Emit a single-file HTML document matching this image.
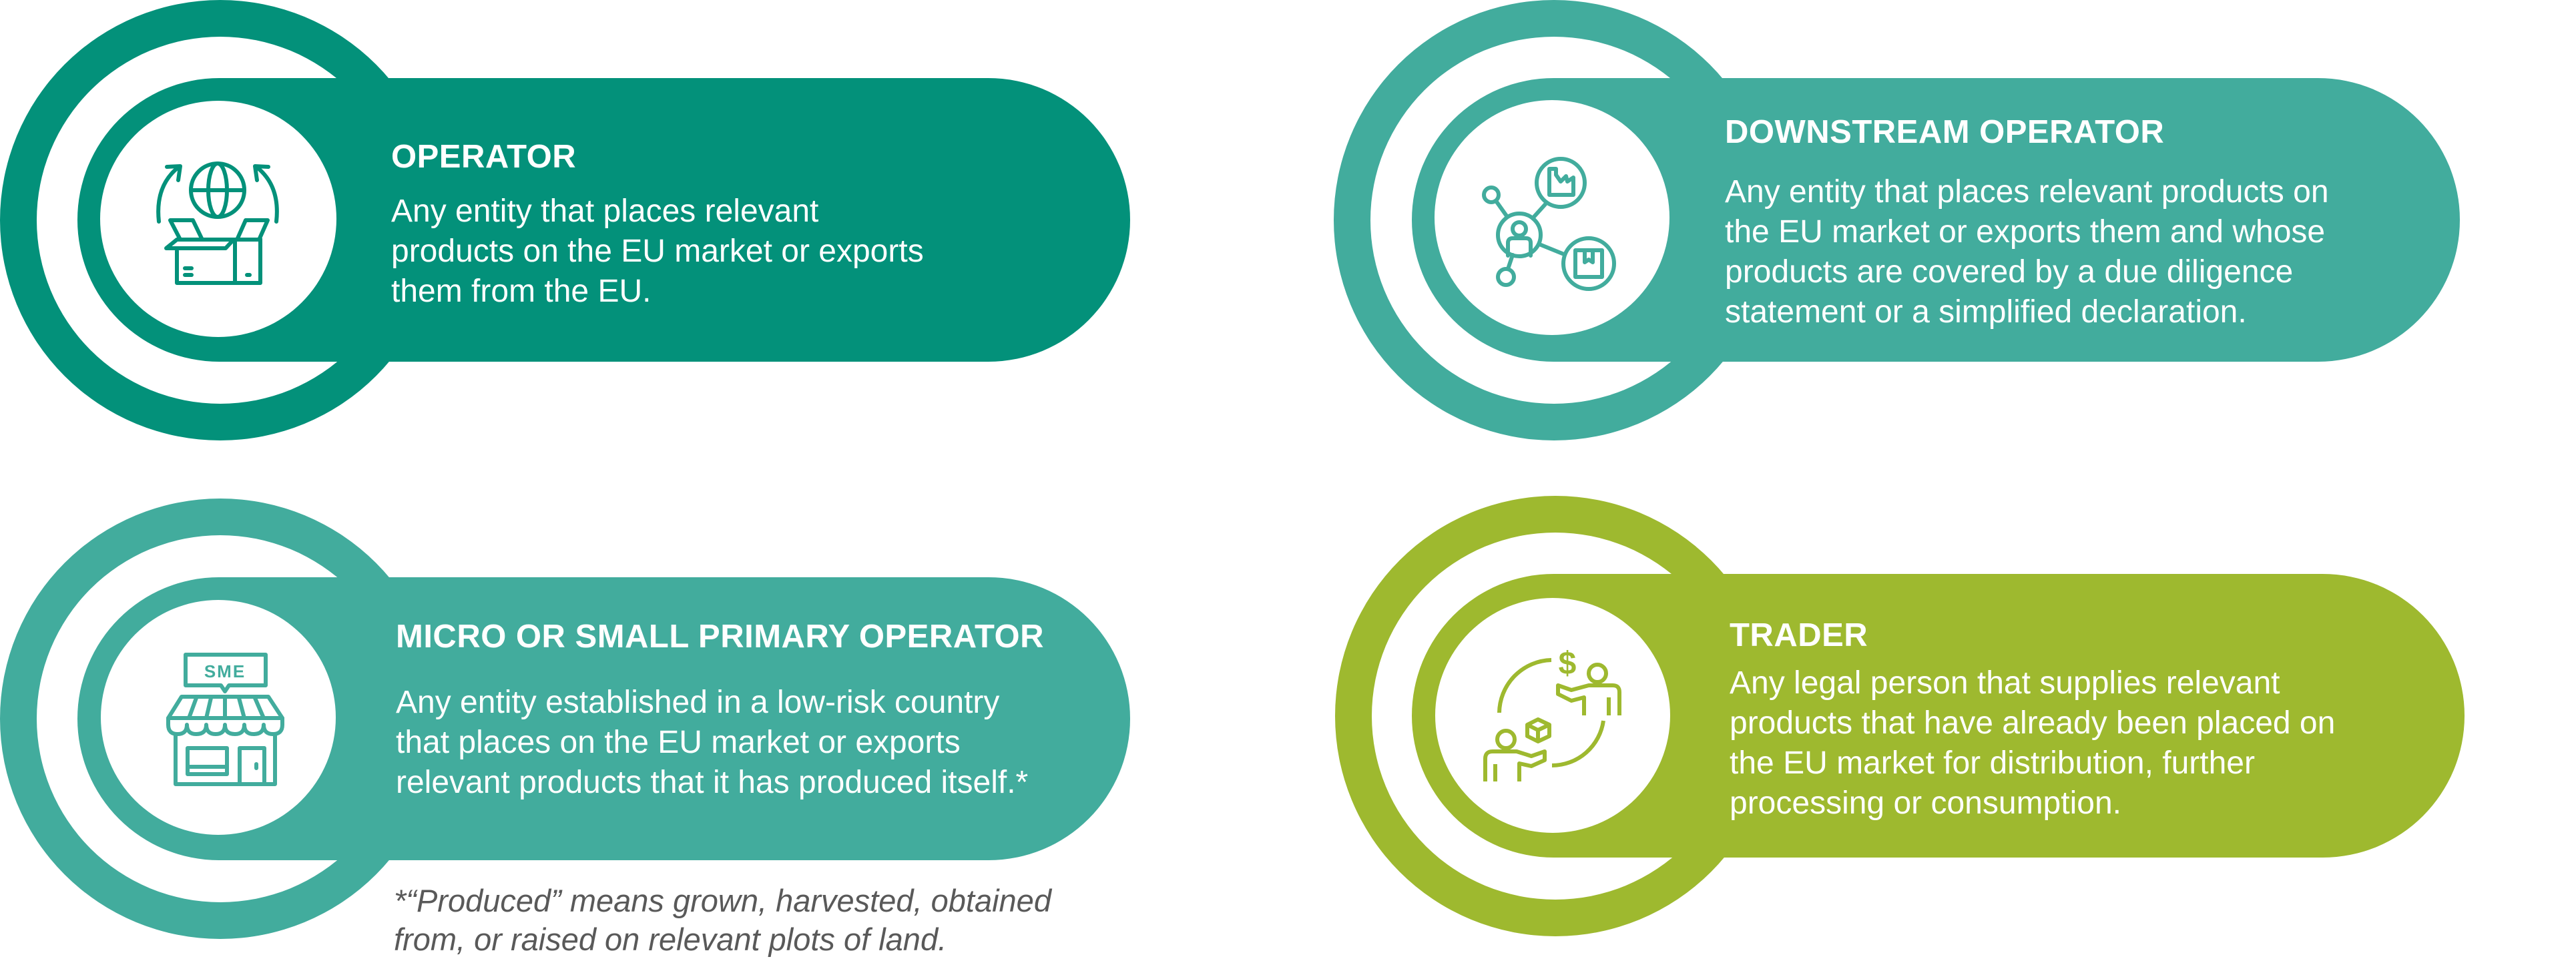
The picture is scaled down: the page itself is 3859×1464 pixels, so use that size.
<!DOCTYPE html>
<html><head><meta charset="utf-8"><style>
html,body{margin:0;padding:0;background:#fff;}
svg{display:block;}
text{font-family:"Liberation Sans",sans-serif;}
.h{font-weight:bold;font-size:49px;fill:#fff;letter-spacing:0.5px;}
.b{font-size:48px;fill:#fff;}
.f{font-size:47px;fill:#595959;font-style:italic;}
</style></head><body>
<svg width="3859" height="1464" viewBox="0 0 3859 1464" xmlns="http://www.w3.org/2000/svg">
<!-- Card 1 -->
<g>
<circle cx="330" cy="330" r="330" fill="#03917a"/>
<circle cx="330" cy="330" r="275" fill="#fff"/>
<rect x="116" y="117" width="1577" height="425" rx="212.5" fill="#03917a"/>
<circle cx="327" cy="328" r="177" fill="#fff"/>
<g fill="none" stroke="#03917a" stroke-width="6" stroke-linecap="round" stroke-linejoin="round">
<circle cx="326" cy="285" r="40"/>
<ellipse cx="326" cy="285" rx="14" ry="40"/>
<line x1="287" y1="285" x2="365" y2="285"/>
<path d="M238 332 Q232 278 268 250"/><path d="M250 250 L270 249 L267 270"/>
<path d="M414 332 Q420 278 384 250"/><path d="M402 250 L382 249 L385 270"/>
<path d="M265 376 L265 424 L390 424 L390 358"/>
<line x1="352" y1="359" x2="352" y2="424"/>
<path d="M249 372 L265 359 L350 359 L338 372 Z"/>
<path d="M269 357 L255 330 L289 330 L302 357"/>
<path d="M356 357 L368 330 L401 330 L389 357"/>
<line x1="302" y1="359" x2="390" y2="359"/>
<line x1="277" y1="402" x2="287" y2="402"/><line x1="277" y1="412" x2="287" y2="412"/>
<line x1="370" y1="412" x2="374" y2="412"/>
</g>
<text class="h" x="586" y="251">OPERATOR</text>
<text class="b" x="586" y="332">Any entity that places relevant</text>
<text class="b" x="586" y="392">products on the EU market or exports</text>
<text class="b" x="586" y="452">them from the EU.</text>
</g>
<!-- Card 2 -->
<g>
<circle cx="2328" cy="330" r="330" fill="#42ac9d"/>
<circle cx="2328" cy="330" r="275" fill="#fff"/>
<rect x="2115" y="117" width="1570" height="425" rx="212.5" fill="#42ac9d"/>
<circle cx="2325" cy="326" r="176" fill="#fff"/>
<g fill="none" stroke="#42ac9d" stroke-width="6" stroke-linecap="round" stroke-linejoin="round">
<circle cx="2234" cy="292" r="11"/>
<circle cx="2276" cy="352" r="32"/>
<circle cx="2338" cy="274" r="36"/>
<circle cx="2380" cy="395" r="38"/>
<circle cx="2256" cy="415" r="12"/>
<line x1="2241" y1="301" x2="2258" y2="325"/>
<line x1="2296" y1="327" x2="2315" y2="306"/>
<line x1="2306" y1="366" x2="2343" y2="381"/>
<line x1="2266" y1="382" x2="2259" y2="403"/>
<circle cx="2276" cy="343" r="10"/>
<path d="M2259 383 L2259 364 Q2259 357 2266 357 L2286 357 Q2293 357 2293 364 L2293 383"/>
<path d="M2321 253 L2321 292 L2357 292 L2357 266 L2348 272 L2346 264 L2338 272 L2331 262 L2331 253 Z"/>
<rect x="2360" y="375" width="40" height="40"/>
<path d="M2374 376 L2374 393 L2380 389 L2386 393 L2386 376"/>
</g>
<text class="h" x="2584" y="214">DOWNSTREAM OPERATOR</text>
<text class="b" x="2584" y="303">Any entity that places relevant products on</text>
<text class="b" x="2584" y="363">the EU market or exports them and whose</text>
<text class="b" x="2584" y="423">products are covered by a due diligence</text>
<text class="b" x="2584" y="483">statement or a simplified declaration.</text>
</g>
<!-- Card 3 -->
<g>
<circle cx="330" cy="1077" r="330" fill="#42ac9d"/>
<circle cx="330" cy="1077" r="275" fill="#fff"/>
<rect x="116" y="865" width="1577" height="424" rx="212" fill="#42ac9d"/>
<circle cx="327" cy="1075" r="176" fill="#fff"/>
<g fill="none" stroke="#42ac9d" stroke-width="6" stroke-linecap="round" stroke-linejoin="round">
<path d="M278 981 L398 981 L398 1027 L343 1027 L337 1036 L331 1027 L278 1027 Z"/>
<path d="M252 1076 L272 1044 L402 1044 L423 1076 Z"/>
<path d="M252 1076 L252 1086 Q252 1100 266 1100 Q280 1100 280 1086 Q280 1100 294 1100 Q309 1100 309 1086 Q309 1100 323 1100 Q337 1100 337 1086 Q337 1100 352 1100 Q366 1100 366 1086 Q366 1100 380 1100 Q395 1100 395 1086 Q395 1100 409 1100 Q423 1100 423 1086 L423 1076"/>
<line x1="283" y1="1076" x2="294" y2="1046"/><line x1="309" y1="1076" x2="316" y2="1046"/>
<line x1="337" y1="1076" x2="337" y2="1046"/><line x1="366" y1="1076" x2="358" y2="1046"/>
<line x1="395" y1="1076" x2="382" y2="1046"/>
<path d="M263 1101 L263 1175 L412 1175 L412 1101"/>
<rect x="281" y="1121" width="59" height="39"/><line x1="281" y1="1149" x2="340" y2="1149"/>
<path d="M359 1175 L359 1121 L396 1121 L396 1175"/>
<line x1="384" y1="1145" x2="384" y2="1151"/>
</g>
<text x="337" y="1015" text-anchor="middle" font-size="26" font-weight="bold" fill="#42ac9d" letter-spacing="2">SME</text>
<text class="h" x="593" y="970">MICRO OR SMALL PRIMARY OPERATOR</text>
<text class="b" x="593" y="1068">Any entity established in a low-risk country</text>
<text class="b" x="593" y="1128">that places on the EU market or exports</text>
<text class="b" x="593" y="1188">relevant products that it has produced itself.*</text>
<text class="f" x="590" y="1366">*“Produced” means grown, harvested, obtained</text>
<text class="f" x="590" y="1424">from, or raised on relevant plots of land.</text>
</g>
<!-- Card 4 -->
<g>
<circle cx="2330" cy="1073" r="330" fill="#9eb92f"/>
<circle cx="2330" cy="1073" r="275" fill="#fff"/>
<rect x="2115" y="860" width="1577" height="425" rx="212.5" fill="#9eb92f"/>
<circle cx="2326" cy="1072" r="176" fill="#fff"/>
<g fill="none" stroke="#9eb92f" stroke-width="6" stroke-linejoin="round">
<path d="M2324 989 A80 80 0 0 0 2246 1068"/>
<path d="M2402 1080 A78 78 0 0 1 2325 1147"/>
<circle cx="2393" cy="1009" r="13"/>
<path d="M2426 1072 L2426 1037 Q2426 1027 2416 1027 L2380 1027 L2354 1034 L2334 1027 L2334 1040 L2354 1050 L2373 1045 L2373 1072"/>
<line x1="2410" y1="1045" x2="2410" y2="1072"/>
<circle cx="2256" cy="1108" r="13"/>
<path d="M2225 1171 L2225 1137 Q2225 1126 2236 1126 L2272 1126 L2294 1133 L2314 1126 L2314 1139 L2294 1148 L2276 1144 L2276 1171"/>
<line x1="2240" y1="1145" x2="2240" y2="1171"/>
<path d="M2288 1086 L2304 1078 L2321 1086 L2321 1103 L2304 1111 L2288 1103 Z"/>
<path d="M2288 1086 L2304 1094 L2321 1086 M2304 1094 L2304 1111"/>
</g>
<text x="2348" y="1010" text-anchor="middle" font-size="48" font-weight="bold" fill="#9eb92f">$</text>
<text class="h" x="2591" y="968">TRADER</text>
<text class="b" x="2591" y="1039">Any legal person that supplies relevant</text>
<text class="b" x="2591" y="1099">products that have already been placed on</text>
<text class="b" x="2591" y="1159">the EU market for distribution, further</text>
<text class="b" x="2591" y="1219">processing or consumption.</text>
</g>
</svg>
</body></html>
